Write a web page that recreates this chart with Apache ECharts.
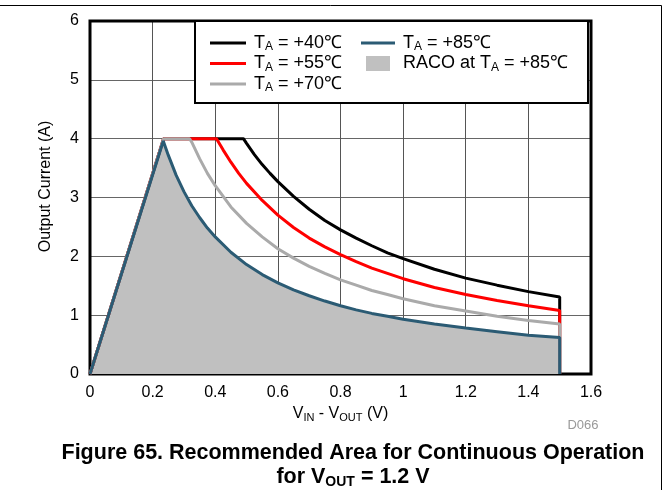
<!DOCTYPE html>
<html>
<head>
<meta charset="utf-8">
<title>Recommended Area for Continuous Operation</title>
<script src="https://cdn.jsdelivr.net/npm/echarts@6/dist/echarts.min.js"></script>
<style>
  html, body { margin: 0; padding: 0; background: #fff; }
  #chart { width: 669px; height: 502px; }
</style>
</head>
<body>
<div id="chart"></div>
<script>
// curve points: VIN - VOUT (V) and output current (A)
const v40 = [0, 0.235, 0.49, 0.5, 0.525, 0.55, 0.575, 0.6, 0.65, 0.7, 0.75, 0.8, 0.85, 0.9, 0.95, 1.0, 1.1, 1.2, 1.3, 1.4, 1.5, 1.5];
const i40 = [0, 4.0, 4.0, 3.92, 3.73, 3.56, 3.41, 3.27, 3.02, 2.8, 2.61, 2.45, 2.31, 2.18, 2.06, 1.96, 1.78, 1.63, 1.51, 1.4, 1.31, 0];

const v55 = [0, 0.235, 0.404, 0.425, 0.45, 0.475, 0.5, 0.55, 0.6, 0.65, 0.7, 0.75, 0.8, 0.85, 0.9, 0.95, 1.0, 1.1, 1.2, 1.3, 1.4, 1.5, 1.5];
const i55 = [0, 4.0, 4.0, 3.81, 3.6, 3.41, 3.24, 2.95, 2.7, 2.49, 2.31, 2.16, 2.03, 1.91, 1.8, 1.71, 1.62, 1.47, 1.35, 1.25, 1.16, 1.08, 0];

const v70 = [0, 0.235, 0.318, 0.325, 0.35, 0.375, 0.4, 0.45, 0.5, 0.55, 0.6, 0.65, 0.7, 0.75, 0.8, 0.85, 0.9, 0.95, 1.0, 1.1, 1.2, 1.3, 1.4, 1.5, 1.5];
const i70 = [0, 4.0, 4.0, 3.94, 3.66, 3.41, 3.2, 2.84, 2.56, 2.33, 2.13, 1.97, 1.83, 1.71, 1.6, 1.51, 1.42, 1.35, 1.28, 1.16, 1.07, 0.98, 0.91, 0.85, 0];

const v85 = [0, 0.234, 0.25, 0.275, 0.3, 0.325, 0.35, 0.375, 0.4, 0.45, 0.5, 0.55, 0.6, 0.65, 0.7, 0.75, 0.8, 0.85, 0.9, 0.95, 1.0, 1.1, 1.2, 1.3, 1.4, 1.5, 1.5];
const i85 = [0, 3.96, 3.72, 3.38, 3.1, 2.86, 2.66, 2.48, 2.33, 2.07, 1.86, 1.69, 1.55, 1.43, 1.33, 1.24, 1.16, 1.09, 1.03, 0.98, 0.93, 0.85, 0.78, 0.72, 0.66, 0.62, 0];

const seriesNames = ['TA = +40℃', 'TA = +55℃', 'TA = +70℃', 'TA = +85℃'];
const areaName = 'RACO at TA = +85℃';
const legendLabels = {
  'TA = +40℃': '{f|T}{s|A}{n| = +40℃}',
  'TA = +55℃': '{f|T}{s|A}{n| = +55℃}',
  'TA = +70℃': '{f|T}{s|A}{n| = +70℃}',
  'TA = +85℃': '{f|T}{s|A}{n| = +85℃}',
  'RACO at TA = +85℃': '{f|RACO at T}{s|A}{n| = +85℃}'
};

const FONT = '"Liberation Sans", Arial, sans-serif';

function pairs(xs, ys) {
  return xs.map((x, i) => [x, ys[i]]);
}

const legendRich = {
  f: { fontSize: 18, lineHeight: 20, fontFamily: FONT, color: '#000', padding: [0, 0, 0, 3] },
  n: { fontSize: 18, lineHeight: 20, fontFamily: FONT, color: '#000' },
  s: { fontSize: 12, lineHeight: 8, verticalAlign: 'bottom', fontFamily: FONT, color: '#000' }
};

function lineSeries(name, xs, ys, color) {
  return {
    name: name,
    type: 'line',
    data: pairs(xs, ys),
    symbol: 'none',
    color: color,
    lineStyle: { width: 3, color: color },
    emphasis: { disabled: true }
  };
}

function lineIcon(name, w) {
  return { name: name, icon: 'path://M0,0h' + w + 'v3h-' + w + 'z', itemStyle: { borderWidth: 0 } };
}

const chart = echarts.init(document.getElementById('chart'));

chart.setOption({
  animation: false,
  grid: {
    left: 90, right: 78, top: 21, bottom: 128,
    show: true, borderColor: '#000', borderWidth: 3,
    backgroundColor: 'transparent', z: 3
  },
  xAxis: {
    type: 'value', min: 0, max: 1.6, interval: 0.2,
    axisLine: { show: false }, axisTick: { show: false },
    axisLabel: { fontSize: 16, color: '#000', fontFamily: FONT, margin: 11 },
    splitLine: { lineStyle: { color: '#555', width: 1 } },
    name: '{n|V}{s|IN}{n| - V}{s|OUT}{n| (V)}',
    nameLocation: 'middle', nameGap: 27,
    nameTextStyle: {
      rich: {
        n: { fontSize: 16, lineHeight: 20, fontFamily: FONT, color: '#000' },
        s: { fontSize: 11, lineHeight: 8, verticalAlign: 'bottom', fontFamily: FONT, color: '#000' }
      }
    }
  },
  yAxis: {
    type: 'value', min: 0, max: 6, interval: 1,
    axisLine: { show: false }, axisTick: { show: false },
    axisLabel: { fontSize: 16, color: '#000', fontFamily: FONT, margin: 11 },
    splitLine: { lineStyle: { color: '#666', width: 1 } },
    name: 'Output Current (A)',
    nameLocation: 'middle', nameGap: 36,
    nameTextStyle: { fontSize: 16, color: '#000', fontFamily: FONT, padding: [0, 0, 0, 22] }
  },
  legend: [
    {
      orient: 'vertical', left: 210, top: 34, padding: 0, itemGap: 1.5,
      itemWidth: 36, itemHeight: 15, symbolKeepAspect: true, selectedMode: false, z: 20,
      data: seriesNames.slice(0, 3).map(n => lineIcon(n, 36)),
      formatter: name => legendLabels[name],
      textStyle: { rich: legendRich }
    },
    {
      orient: 'vertical', left: 361, top: 34, padding: 0, itemGap: 1.5,
      itemWidth: 34, itemHeight: 15, symbolKeepAspect: true, selectedMode: false, z: 20,
      data: [
        lineIcon(seriesNames[3], 34),
        { name: areaName, icon: 'path://M0,0h24v15h-24z', itemStyle: { color: '#c0c0c0', borderWidth: 0 } }
      ],
      formatter: name => legendLabels[name],
      textStyle: { rich: legendRich }
    }
  ],
  graphic: [
    {
      type: 'rect', z: 10,
      shape: { x: 195, y: 21, width: 393, height: 82 },
      style: { fill: '#fff', stroke: '#000', lineWidth: 2 }
    },
    {
      type: 'polyline', z: 10,
      shape: { points: [[0, 5.5], [661.5, 5.5], [661.5, 490]] },
      style: { fill: null, stroke: '#000', lineWidth: 1 }
    },
    {
      type: 'text', z: 10, x: 583, y: 425,
      style: {
        text: 'D066', fontSize: 13, fontFamily: FONT, fill: '#999',
        align: 'center', verticalAlign: 'middle',
        textAlign: 'center', textVerticalAlign: 'middle'
      }
    },
    {
      type: 'text', z: 10, x: 353, y: 441,
      style: {
        text: '{b|Figure 65. Recommended Area for Continuous Operation}\n{b|for V}{bs|OUT}{b| = 1.2 V}',
        align: 'center', verticalAlign: 'top',
        textAlign: 'center', textVerticalAlign: 'top',
        rich: {
          b: { fontSize: 21.5, fontWeight: 'bold', lineHeight: 24, fontFamily: FONT, fill: '#000' },
          bs: { fontSize: 14, fontWeight: 'bold', lineHeight: 11, verticalAlign: 'bottom', fontFamily: FONT, fill: '#000' }
        }
      }
    }
  ],
  series: [
    {
      name: areaName,
      type: 'line',
      data: pairs(v85, i85),
      symbol: 'none',
      color: '#c0c0c0',
      lineStyle: { width: 0 },
      areaStyle: { color: '#c0c0c0', opacity: 1 },
      emphasis: { disabled: true }
    },
    lineSeries(seriesNames[0], v40, i40, '#000000'),
    lineSeries(seriesNames[1], v55, i55, '#ff0000'),
    lineSeries(seriesNames[2], v70, i70, '#aaaaaa'),
    lineSeries(seriesNames[3], v85, i85, '#2b5b74')
  ]
});
</script>
</body>
</html>
